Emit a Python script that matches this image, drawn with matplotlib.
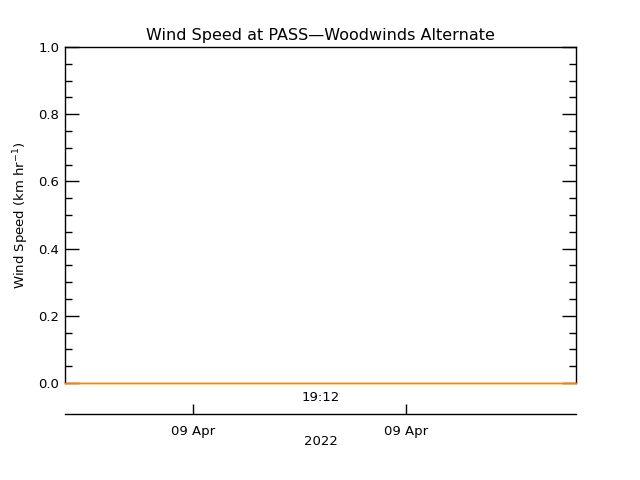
import matplotlib
matplotlib.use('Agg')
import matplotlib.pyplot as plt
import numpy as np

# hours on 09 Apr 2022
hours = [18.0, 18.6, 19.2, 19.8, 20.4]
speed = [0.0, 0.0, 0.0, 0.0, 0.0]
time_ticks = [19.2]
time_labels = ['19:12']
date_ticks = [18.6, 19.6]
date_labels = ['09 Apr', '09 Apr']
year_label = '2022'

plt.rcParams['font.family'] = ['DejaVu Sans']
plt.rcParams['font.size'] = 9.5

fig = plt.figure(figsize=(6.4, 4.8), dpi=100)
ax = fig.add_axes([65/640, 1-383/480, 511/640, 336/480])

ax.plot(hours, speed, color='#ff8000', linewidth=1.0, zorder=5, clip_on=False)
ax.set_xlim(18.0, 20.4)
ax.set_ylim(0, 1.0)
ax.set_yticks(np.arange(0, 1.01, 0.2))
ax.set_yticks(np.arange(0, 1.01, 0.05), minor=True)
ax.yaxis.set_major_formatter(matplotlib.ticker.FormatStrFormatter('%.1f'))
ax.tick_params(axis='y', which='major', direction='in', length=10, width=1, right=True, pad=4)
ax.tick_params(axis='y', which='minor', direction='in', length=5, width=1, right=True)
ax.set_xticks(time_ticks)
ax.set_xticklabels(time_labels)
ax.tick_params(axis='x', length=0, pad=6)
for s in ax.spines.values():
    s.set_linewidth(1)
ax.spines['bottom'].set_color('#ff8000')

ax.set_title('Wind Speed at PASS\u2014Woodwinds Alternate', fontsize=11.5, pad=5)
ax.set_ylabel('Wind Speed (km hr$^{-1}$)', labelpad=5)

sec = ax.secondary_xaxis(-31/336)
sec.set_xticks(date_ticks)
sec.set_xticklabels(date_labels)
sec.tick_params(direction='in', length=7, width=1, pad=8)
sec.set_xlabel(year_label, labelpad=-2)
sec.spines['bottom'].set_linewidth(1)

fig.savefig('out.png', dpi=100)
